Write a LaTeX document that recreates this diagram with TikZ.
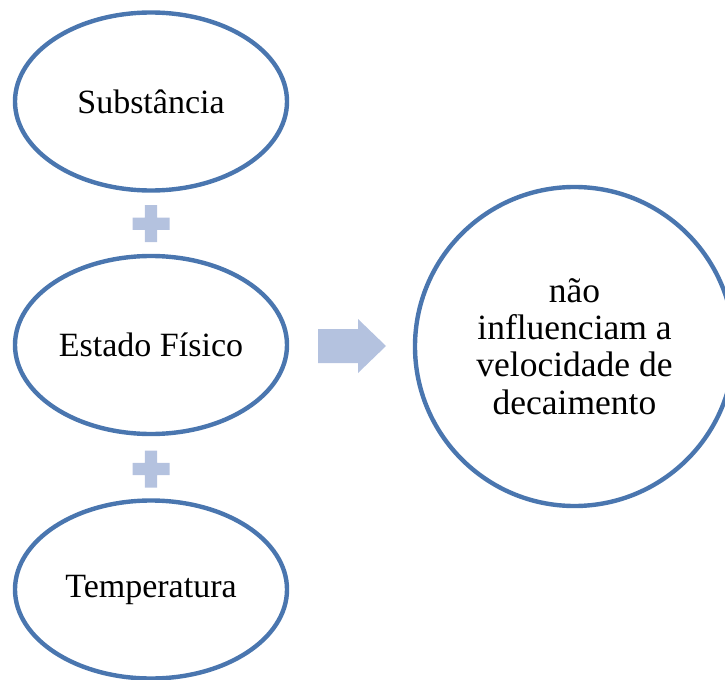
\documentclass[tikz,border=0pt]{standalone}
\usepackage{fontspec}
\setmainfont{Liberation Serif}
\usetikzlibrary{shapes.geometric}
\definecolor{ringblue}{RGB}{74,118,175}
\definecolor{softblue}{RGB}{180,194,223}
\tikzset{
  oval/.style={ellipse, draw=ringblue, line width=4.4bp, minimum width=272bp, minimum height=178bp, inner sep=0pt, font=\fontsize{34bp}{37bp}\selectfont, align=center},
  roundbox/.style={circle, draw=ringblue, line width=4.4bp, minimum size=319bp, inner sep=0pt, font=\fontsize{35.5bp}{37.3bp}\selectfont, align=center},
  plusmark/.style={fill=softblue, draw=none},
  bigarrow/.style={fill=softblue, draw=none}
}
\begin{document}
\begin{tikzpicture}[x=1bp,y=-1bp]
\useasboundingbox (0,0) rectangle (725,680);
\node[oval] (sub) at (151,101.5) {Substância};
\node[oval] (est) at (151,345) {Estado Físico};
\node[oval] (tem) at (151,589.5) {Temperatura};
\node[roundbox] (res) at (574.5,346.5) {não\\influenciam a\\velocidade de\\decaimento};
% plus signs
\coordinate (p1) at (151,223.7);
\coordinate (p2) at (151,469);
\foreach \p in {p1,p2}{
  \fill[plusmark] ([shift={(-18.5,-6.2)}]\p) -- ([shift={(-6.2,-6.2)}]\p) -- ([shift={(-6.2,-18.5)}]\p)
    -- ([shift={(6.2,-18.5)}]\p) -- ([shift={(6.2,-6.2)}]\p) -- ([shift={(18.5,-6.2)}]\p)
    -- ([shift={(18.5,6.2)}]\p) -- ([shift={(6.2,6.2)}]\p) -- ([shift={(6.2,18.5)}]\p)
    -- ([shift={(-6.2,18.5)}]\p) -- ([shift={(-6.2,6.2)}]\p) -- ([shift={(-18.5,6.2)}]\p) -- cycle;
}
% arrow
\coordinate (ar) at (318,346);
\fill[bigarrow] ([shift={(0,-17)}]ar) -- ([shift={(40,-17)}]ar) -- ([shift={(40,-27)}]ar)
  -- ([shift={(68,0)}]ar) -- ([shift={(40,27)}]ar) -- ([shift={(40,17)}]ar) -- ([shift={(0,17)}]ar) -- cycle;
\end{tikzpicture}
\end{document}
